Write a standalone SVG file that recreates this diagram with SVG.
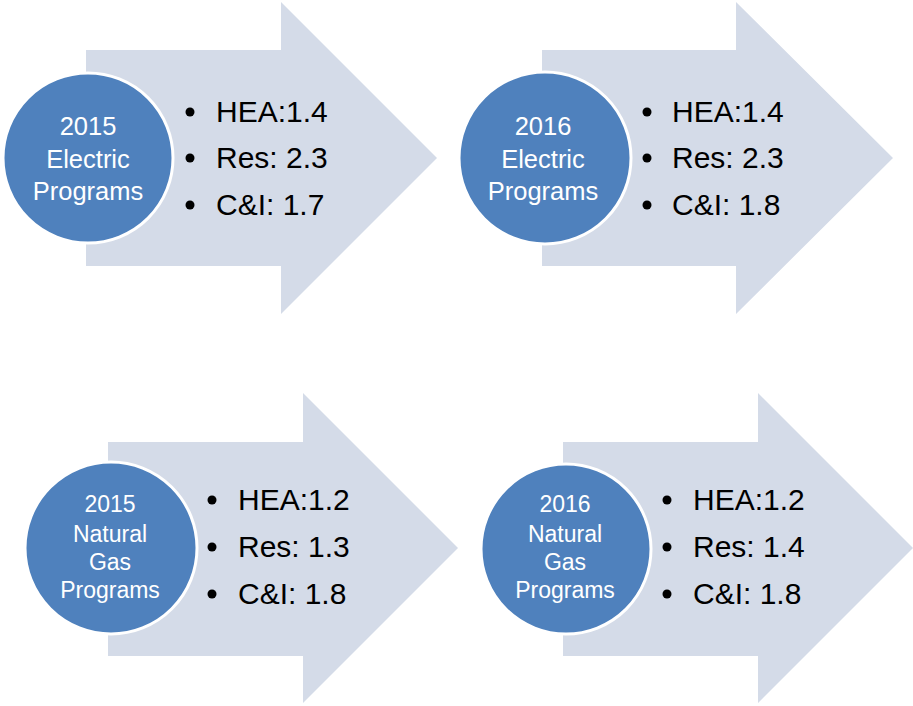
<svg xmlns="http://www.w3.org/2000/svg" width="913" height="706" viewBox="0 0 913 706">
  <style>
    .arrow { fill: #D4DBE8; }
    .disc { fill: #4F81BD; stroke: #FFFFFF; stroke-width: 3; }
    .label { fill: #FFFFFF; font-family: "Liberation Sans", Arial, sans-serif; text-anchor: middle; }
    .big { font-size: 25.5px; }
    .small { font-size: 23px; }
    .item { fill: #000000; font-family: "Liberation Sans", Arial, sans-serif; font-size: 30px; }
    .dot { fill: #000000; }
  </style>
  <rect width="913" height="706" fill="#FFFFFF"/>

  <!-- 2015 electric -->
  <g id="electric-2015">
    <polygon class="arrow" points="86,50 281,50 281,2 437,158 281,314 281,266 86,266"/>
    <circle class="disc" cx="88" cy="158" r="85"/>
    <text class="label big" x="88" y="135">2015</text>
    <text class="label big" x="88" y="168">Electric</text>
    <text class="label big" x="88" y="200">Programs</text>
    <circle class="dot" cx="190" cy="112" r="4.5"/>
    <circle class="dot" cx="190" cy="158" r="4.5"/>
    <circle class="dot" cx="190" cy="205" r="4.5"/>
    <text class="item" x="216" y="122">HEA:1.4</text>
    <text class="item" x="216" y="168">Res: 2.3</text>
    <text class="item" x="216" y="215">C&amp;I: 1.7</text>
  </g>

  <!-- 2016 electric -->
  <g id="electric-2016">
    <polygon class="arrow" points="542,50 736,50 736,2 893,158 736,314 736,266 542,266"/>
    <circle class="disc" cx="545" cy="158" r="86"/>
    <text class="label big" x="543" y="135">2016</text>
    <text class="label big" x="543" y="168">Electric</text>
    <text class="label big" x="543" y="200">Programs</text>
    <circle class="dot" cx="647" cy="112" r="4.5"/>
    <circle class="dot" cx="647" cy="158" r="4.5"/>
    <circle class="dot" cx="647" cy="205" r="4.5"/>
    <text class="item" x="672" y="122">HEA:1.4</text>
    <text class="item" x="672" y="168">Res: 2.3</text>
    <text class="item" x="672" y="215">C&amp;I: 1.8</text>
  </g>

  <!-- 2015 natural gas -->
  <g id="gas-2015">
    <polygon class="arrow" points="108,442 303,442 303,393 458,548 303,703 303,656 108,656"/>
    <circle class="disc" cx="111" cy="548" r="86"/>
    <text class="label small" x="110" y="512">2015</text>
    <text class="label small" x="110" y="542">Natural</text>
    <text class="label small" x="110" y="570">Gas</text>
    <text class="label small" x="110" y="598">Programs</text>
    <circle class="dot" cx="212" cy="500" r="4.5"/>
    <circle class="dot" cx="212" cy="547" r="4.5"/>
    <circle class="dot" cx="212" cy="594" r="4.5"/>
    <text class="item" x="238" y="510">HEA:1.2</text>
    <text class="item" x="238" y="557">Res: 1.3</text>
    <text class="item" x="238" y="604">C&amp;I: 1.8</text>
  </g>

  <!-- 2016 natural gas -->
  <g id="gas-2016">
    <polygon class="arrow" points="563,442 758,442 758,393 913,548 758,703 758,656 563,656"/>
    <circle class="disc" cx="566" cy="549" r="85"/>
    <text class="label small" x="565" y="512">2016</text>
    <text class="label small" x="565" y="542">Natural</text>
    <text class="label small" x="565" y="570">Gas</text>
    <text class="label small" x="565" y="598">Programs</text>
    <circle class="dot" cx="667" cy="500" r="4.5"/>
    <circle class="dot" cx="667" cy="547" r="4.5"/>
    <circle class="dot" cx="667" cy="594" r="4.5"/>
    <text class="item" x="693" y="510">HEA:1.2</text>
    <text class="item" x="693" y="557">Res: 1.4</text>
    <text class="item" x="693" y="604">C&amp;I: 1.8</text>
  </g>

  <g id="connectors"/>
</svg>
